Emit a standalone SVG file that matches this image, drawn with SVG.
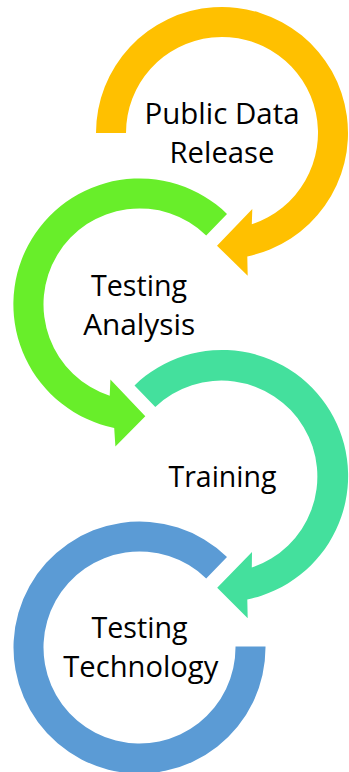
<svg xmlns="http://www.w3.org/2000/svg" width="349" height="772" viewBox="0 0 349 772">
<style>
  .lbl { font-family: "Open Sans", "Liberation Sans", sans-serif; font-size: 29px; fill: #000000; text-anchor: middle; }
  .o { fill: #FFC000; }
  .g { fill: #68EE2A; }
  .t { fill: #44E09D; }
  .b { fill: #5B9BD5; }
</style>
<rect width="349" height="772" fill="#FFFFFF"/>
<g id="node-public-data-release">
  <path class="o" d="M 96 133 A 126 126 0 1 1 247.3 256.4 L 247.7 275.7 L 217 245.7 L 252.3 209 L 251.8 224.2 A 96 96 0 1 0 126 133 Z"/>
  <text class="lbl" x="222" y="124" textLength="155" lengthAdjust="spacingAndGlyphs">Public Data</text>
  <text class="lbl" x="222" y="163" textLength="105" lengthAdjust="spacingAndGlyphs">Release</text>
</g>
<g id="node-testing-analysis">
  <path class="g" d="M 227 213.9 A 126 126 0 1 0 114.2 427.9 L 115.4 446.5 L 145.3 416.2 L 110.4 379.5 L 109.7 395.7 A 96 96 0 1 1 206.2 235.4 Z"/>
  <text class="lbl" x="139" y="296" textLength="96" lengthAdjust="spacingAndGlyphs">Testing</text>
  <text class="lbl" x="139.2" y="335" textLength="112" lengthAdjust="spacingAndGlyphs">Analysis</text>
</g>
<g id="node-training">
  <path class="t" d="M 134.5 385.4 A 126 126 0 1 1 247.3 599.4 L 247.7 618.3 L 217.2 587.7 L 252 552 L 251.8 567.6 A 96 96 0 1 0 155.3 406.9 Z"/>
  <text class="lbl" x="222.5" y="486.5" textLength="108" lengthAdjust="spacingAndGlyphs">Training</text>
</g>
<g id="node-testing-technology">
  <path class="b" d="M 265.5 646.5 A 126 126 0 1 1 227 556.9 L 206.2 578.4 A 96 96 0 1 0 235.5 646.5 Z"/>
  <text class="lbl" x="139.5" y="638" textLength="96" lengthAdjust="spacingAndGlyphs">Testing</text>
  <text class="lbl" x="140.8" y="676.5" textLength="155" lengthAdjust="spacingAndGlyphs">Technology</text>
</g>
<g id="connectors"></g>
</svg>
